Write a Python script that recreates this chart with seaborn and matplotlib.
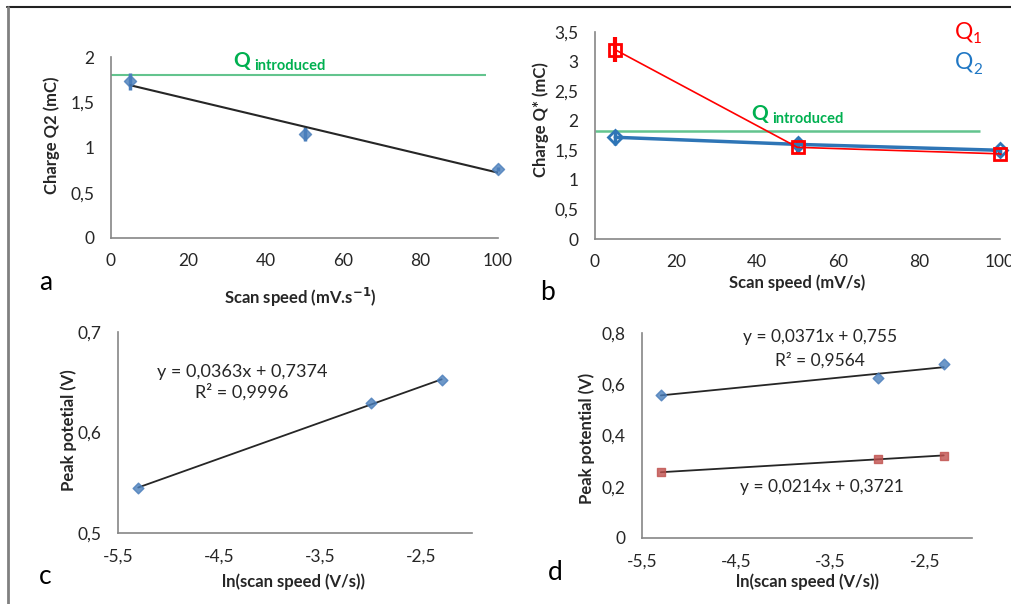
import numpy as np
import matplotlib
matplotlib.use("Agg")
import matplotlib.pyplot as plt
from matplotlib.lines import Line2D
from matplotlib.ticker import MultipleLocator, FixedLocator, FuncFormatter
import seaborn as sns

# ---- data ----
# panel a: charge Q2 vs scan speed
speed_a = [5, 50, 100]
q2_a = [1.73, 1.15, 0.76]
q2_a_err = [0.09, 0.08, 0.02]
q_introduced_a = 1.8

# panel b: Q1 and Q2 vs scan speed
speed_b = [5, 50, 100]
q1_b = [3.2, 1.55, 1.44]
q1_b_err = [0.21, 0.1, 0.06]
q2_b = [1.72, 1.6, 1.5]
q2_b_err = [0.13, 0.12, 0.05]
q_introduced_b = 1.83

# panel c / d: peak potential vs ln(scan speed)
ln_speed = [-5.30, -3.00, -2.30]
peak_c = [0.545, 0.629, 0.652]
peak_d_ox = [0.560, 0.626, 0.678]
peak_d_red = [0.256, 0.310, 0.320]

eq_c = ["y = 0,0363x + 0,7374", "R² = 0,9996"]
eq_d_ox = ["y = 0,0371x + 0,755", "R² = 0,9564"]
eq_d_red = "y = 0,0214x + 0,3721"

W, H = 1011, 604
BLUE = "#4A7EBB"
RED_SQ = "#C0504D"
GREEN_TXT = "#00B050"
GREEN_LINE = "#63C48E"
SPINE = "#868686"
TXT = "#262626"

sns.set_style("white")
plt.rcParams['font.family'] = ['Lato', 'DejaVu Sans']
plt.rcParams['axes.unicode_minus'] = False

fig = plt.figure(figsize=(W / 100, H / 100), dpi=100)


def fx(px):
    return px / W


def fy(py):
    return 1 - py / H


def box(left, top, right, bottom):
    return [fx(left), fy(bottom), (right - left) / W, (bottom - top) / H]


comma = FuncFormatter(lambda v, p: f"{v:g}".replace('.', ','))


def style_axes(ax):
    for s in ["top", "right"]:
        ax.spines[s].set_visible(False)
    for s in ["left", "bottom"]:
        ax.spines[s].set_color(SPINE)
        ax.spines[s].set_linewidth(1.2)
    ax.tick_params(which="both", direction="out", color=SPINE, width=1.1,
                   labelsize=12.5, labelcolor=TXT)
    ax.tick_params(axis="y", pad=6)
    ax.tick_params(axis="x", pad=5)
    ax.tick_params(which="major", length=6)
    ax.tick_params(which="minor", length=4.5)
    ax.xaxis.set_major_formatter(comma)
    ax.yaxis.set_major_formatter(comma)
    ax.set_xlabel("")
    ax.set_ylabel("")
    ax.patch.set_alpha(0)


# ================= panel a =================
ax_a = fig.add_axes(box(111, 57, 498, 238))
ax_a.hlines(q_introduced_a, 0, 97, color=GREEN_LINE, lw=1.5)
ax_a.errorbar(speed_a, q2_a, yerr=q2_a_err, fmt="none", ecolor=BLUE, elinewidth=2.5,
              capsize=0, clip_on=False)
sns.regplot(x=speed_a, y=q2_a, ax=ax_a, ci=None, truncate=True, marker="D",
            scatter_kws=dict(color=BLUE, s=38, zorder=3, clip_on=False),
            line_kws=dict(color="#262626", lw=1.5))
ax_a.set_xlim(0, 100)
ax_a.set_ylim(0, 2)
style_axes(ax_a)
ax_a.xaxis.set_major_locator(MultipleLocator(20))
ax_a.yaxis.set_major_locator(MultipleLocator(0.5))
ax_a.yaxis.set_minor_locator(MultipleLocator(0.1))

# ================= panel b =================
ax_b = fig.add_axes(box(595, 32, 1000, 239))
ax_b.hlines(q_introduced_b, 0, 95, color=GREEN_LINE, lw=1.8)
ax_b.errorbar(speed_b, q1_b, yerr=q1_b_err, fmt="none", ecolor="#FF0000", elinewidth=3,
              capsize=0, clip_on=False)
ax_b.errorbar(speed_b, q2_b, yerr=q2_b_err, fmt="none", ecolor="#2E75B6", elinewidth=2.5,
              capsize=0, clip_on=False)
sns.lineplot(x=speed_b, y=q2_b, ax=ax_b, color="#2E75B6", lw=2.5, marker="D",
             markersize=7, markerfacecolor="none", markeredgecolor="#2E75B6",
             markeredgewidth=2, clip_on=False)
sns.lineplot(x=speed_b, y=q1_b, ax=ax_b, color="#FF0000", lw=1.2, marker="s",
             markersize=8.5, markerfacecolor="none", markeredgecolor="#FF0000",
             markeredgewidth=2, clip_on=False)
ax_b.set_xlim(0, 100)
ax_b.set_ylim(0, 3.5)
style_axes(ax_b)
ax_b.xaxis.set_major_locator(MultipleLocator(20))
ax_b.yaxis.set_major_locator(MultipleLocator(0.5))
ax_b.yaxis.set_minor_locator(MultipleLocator(0.05))

# ================= panel c =================
ax_c = fig.add_axes(box(118, 332, 472, 533))
sns.regplot(x=ln_speed, y=peak_c, ax=ax_c, ci=None, truncate=True, marker="D",
            scatter_kws=dict(color=BLUE, s=30, zorder=3, clip_on=False),
            line_kws=dict(color="#262626", lw=1.3))
ax_c.set_xlim(-5.5, -2)
ax_c.set_ylim(0.5, 0.7)
style_axes(ax_c)
ax_c.xaxis.set_major_locator(FixedLocator([-5.5, -4.5, -3.5, -2.5]))
ax_c.xaxis.set_minor_locator(FixedLocator([-5, -4, -3, -2]))
ax_c.yaxis.set_major_locator(FixedLocator([0.5, 0.6, 0.7]))
ax_c.yaxis.set_minor_locator(FixedLocator([0.55, 0.65]))
ax_c.tick_params(which="minor", length=6)

# ================= panel d =================
ax_d = fig.add_axes(box(642, 333, 972, 538))
sns.regplot(x=ln_speed, y=peak_d_ox, ax=ax_d, ci=None, truncate=True, marker="D",
            scatter_kws=dict(color=BLUE, s=30, zorder=3, clip_on=False),
            line_kws=dict(color="#262626", lw=1.3))
sns.regplot(x=ln_speed, y=peak_d_red, ax=ax_d, ci=None, truncate=True, marker="s",
            scatter_kws=dict(color=RED_SQ, s=30, zorder=3, clip_on=False),
            line_kws=dict(color="#262626", lw=1.3))
ax_d.set_xlim(-5.5, -2)
ax_d.set_ylim(0, 0.8)
style_axes(ax_d)
ax_d.xaxis.set_major_locator(FixedLocator([-5.5, -4.5, -3.5, -2.5]))
ax_d.yaxis.set_major_locator(MultipleLocator(0.2))
ax_d.yaxis.set_minor_locator(MultipleLocator(0.1))
ax_d.tick_params(which="minor", length=6)

# ================= labels =================
lab = dict(fontsize=12, fontweight="bold", color=TXT, ha="center", va="center")
fig.text(fx(52), fy(135), "Charge Q2 (mC)", rotation=90, **lab)
fig.text(fx(300), fy(297), "Scan speed (mV.s$^{\\mathbf{-1}}$)", **lab)
fig.text(fx(541), fy(120), "Charge Q* (mC)", rotation=90, **lab)
fig.text(fx(797), fy(283), "Scan speed (mV/s)", **lab)
fig.text(fx(69), fy(430), "Peak potetial (V)", rotation=90, **lab)
fig.text(fx(294), fy(582), "ln(scan speed (V/s))", **lab)
fig.text(fx(587), fy(438), "Peak potential (V)", rotation=90, **lab)
fig.text(fx(807), fy(582), "ln(scan speed (V/s))", **lab)

letter = dict(fontsize=19, color="black", ha="center", va="center")
fig.text(fx(46), fy(283), "a", **letter)
fig.text(fx(547), fy(292), "b", **letter)
fig.text(fx(45), fy(577), "c", **letter)
fig.text(fx(555), fy(572), "d", **letter)

# Q introduced
fig.text(fx(233), fy(67), "Q", fontsize=15, fontweight="bold", color=GREEN_TXT, va="baseline")
fig.text(fx(254), fy(70), "introduced", fontsize=10.5, fontweight="bold", color=GREEN_TXT, va="baseline")
fig.text(fx(751), fy(120), "Q", fontsize=15, fontweight="bold", color=GREEN_TXT, va="baseline")
fig.text(fx(772), fy(123), "introduced", fontsize=10.5, fontweight="bold", color=GREEN_TXT, va="baseline")

# Q1 / Q2 legend text
fig.text(fx(955), fy(38), "Q", fontsize=16.5, color="#FF0000", va="baseline")
fig.text(fx(973), fy(43), "1", fontsize=11, color="#FF0000", va="baseline")
fig.text(fx(955), fy(68), "Q", fontsize=16.5, color="#1F77C4", va="baseline")
fig.text(fx(973), fy(74), "2", fontsize=11, color="#1F77C4", va="baseline")

# regression equations
eq = dict(fontsize=13, color=TXT, ha="center", va="center")
fig.text(fx(242), fy(372), eq_c[0], **eq)
fig.text(fx(242), fy(392), eq_c[1], **eq)
eq["fontsize"] = 12.5
fig.text(fx(820), fy(337), eq_d_ox[0], **eq)
fig.text(fx(820), fy(360), eq_d_ox[1], **eq)
fig.text(fx(822), fy(487), eq_d_red, **eq)

# frame lines of the cropped figure
fig.add_artist(Line2D([fx(7), 1], [fy(7), fy(7)], color="#222222", lw=1.5))
fig.add_artist(Line2D([fx(7.5), fx(7.5)], [fy(7), 0], color="#808080", lw=2))

fig.savefig("out.png", dpi=100)
